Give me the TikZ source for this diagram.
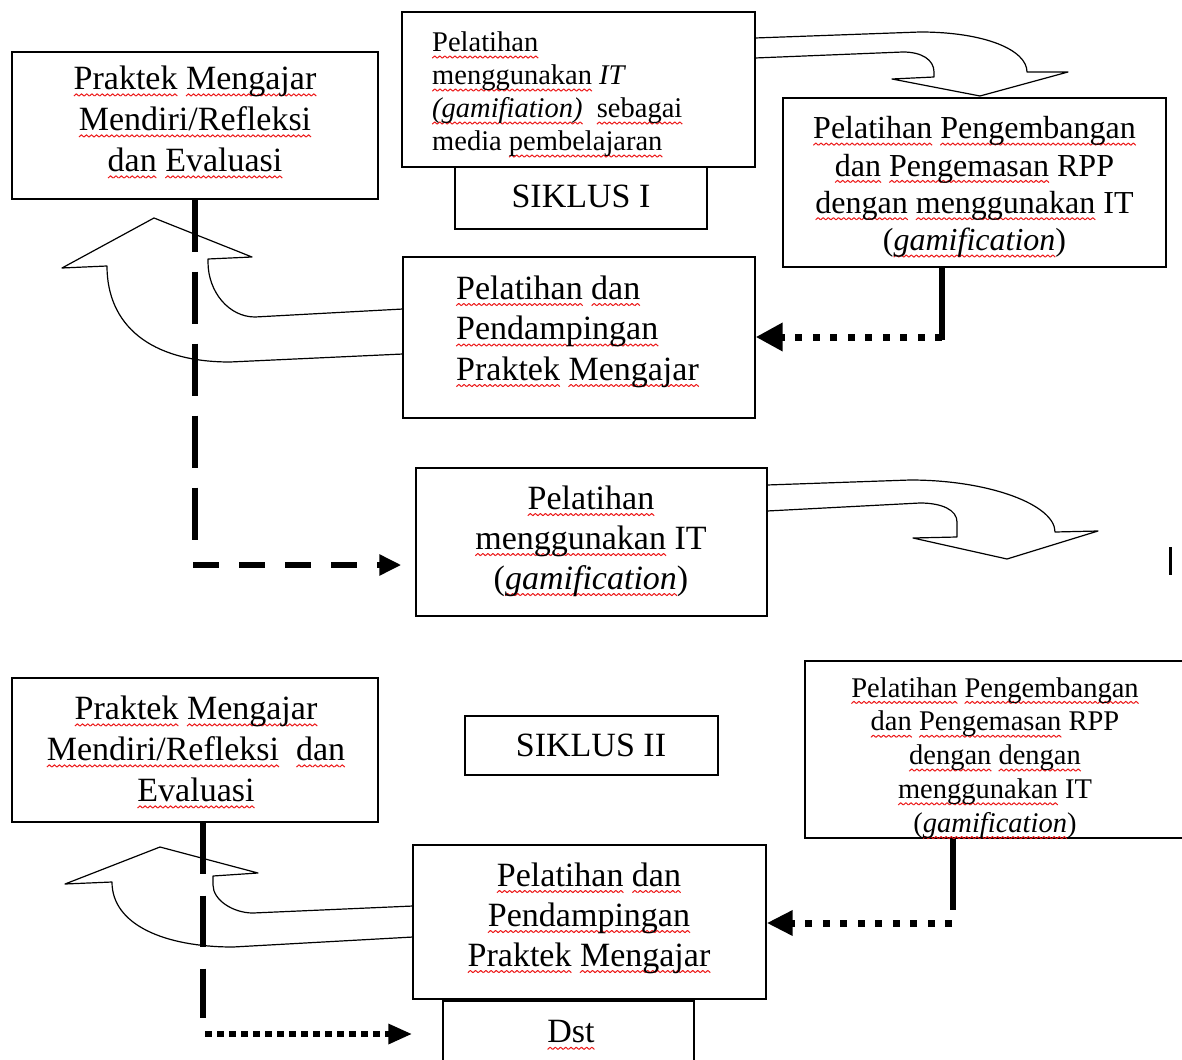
\documentclass[tikz,border=0pt]{standalone}
\usepackage{fontspec}
\setmainfont{Liberation Serif}
\usetikzlibrary{arrows.meta}
\newsavebox\sqbox
\newsavebox\sqword
\sbox\sqbox{\hbox to 5pt{\special{pdf:content q 0.93 0.1 0.1 RG 1 w 1 j 0 0 m 2.49 2.2 l 4.98 0 l S Q}\hfil}}
\newcommand\sq[1]{\sbox\sqword{#1}\leavevmode\rlap{\lower6.5pt\hbox to\wd\sqword{\xleaders\copy\sqbox\hfil}}\usebox\sqword}
\begin{document}
\begin{tikzpicture}[x=1pt,y=-1pt,
  box/.style={draw=black,line width=1.4pt,fill=white,inner sep=0pt},
  blockarrow/.style={draw=black,line width=1.2pt,fill=white,line join=round},
  tbig/.style={inner sep=0pt,align=center,font=\fontsize{34}{41}\selectfont},
  tmid/.style={inner sep=0pt,align=center,font=\fontsize{32}{37.3}\selectfont},
  tsmall/.style={inner sep=0pt,align=center,font=\fontsize{28.5}{33.8}\selectfont},
  longdash/.style={line width=6pt,dash pattern=on 52pt off 20pt},
  shortdash/.style={line width=6pt,dash pattern=on 26pt off 20pt},
  sqdot/.style={line width=7pt,dash pattern=on 7pt off 10.5pt},
  finedot/.style={line width=6.5pt,dash pattern=on 7pt off 5pt},
  solidbar/.style={line width=6.5pt},
]
\useasboundingbox (0,0) rectangle (1182,1059);
\clip (0,0) rectangle (1182,1059);

% ---------- block arrows ----------
\draw[blockarrow] (403,309) -- (255,317) .. controls (229,317) and (208,292) .. (208,262)
  -- (208,259) -- (252,257) -- (154,218) -- (62,268) -- (107,266)
  .. controls (107,325) and (150,362) .. (230,362) -- (403,354) -- cycle;
\draw[blockarrow] (755,58) -- (903,52) .. controls (922,52) and (934,60) .. (934,72)
  -- (934,77) -- (892,79) -- (980,96) -- (1068,72) -- (1027,72)
  .. controls (1027,50) and (985,32) .. (920,32) -- (755,38) -- cycle;
\draw[blockarrow] (767,511) -- (920,503) .. controls (942,503) and (957,510) .. (957,522)
  -- (957,537) -- (913,538) -- (1007,559) -- (1098,531) -- (1055,532)
  .. controls (1055,505) and (990,480) .. (910,480) -- (767,485) -- cycle;
\draw[blockarrow] (413,906) -- (253,913) .. controls (233,913) and (213,900) .. (213,885)
  -- (213,876) -- (258,873) -- (160,847) -- (65,884) -- (112,882)
  .. controls (112,925) and (165,947) .. (233,947) -- (413,937) -- cycle;

% ---------- boxes ----------
\node[box,minimum width=366pt,minimum height=147pt] (a1) at (195,125.5) {};
\node[box,minimum width=252pt,minimum height=62pt] (s1) at (581,198) {};
\node[box,minimum width=353pt,minimum height=155pt] (b) at (578.5,89.5) {};
\node[box,minimum width=383pt,minimum height=169pt] (c) at (974.5,182.5) {};
\node[box,minimum width=352pt,minimum height=161pt] (d) at (579,337.5) {};
\node[box,minimum width=351pt,minimum height=148pt] (e) at (591.5,542) {};
\node[box,minimum width=366pt,minimum height=144pt] (a2) at (195,750) {};
\node[box,minimum width=253pt,minimum height=59pt] (s2) at (591.5,745.5) {};
\node[box,minimum width=385pt,minimum height=177pt] (c2) at (997.5,749.5) {};
\node[box,minimum width=251pt,minimum height=74pt] (dst) at (568.5,1038) {};
\node[box,minimum width=353pt,minimum height=154pt] (d2) at (589.5,922) {};

% ---------- texts ----------
\node[tbig] (a1t) at (195,122) {\sq{Praktek} \sq{Mengajar}\\\sq{Mendiri/Refleksi}\\\sq{dan} \sq{Evaluasi}};
\node[tsmall,font=\fontsize{28.5}{33}\selectfont,align=left,anchor=west] (bt) at (432,94.5)
  {\sq{Pelatihan}\\\sq{menggunakan} \textit{IT}\\\textit{\sq{(gamifiation)}}\ \ \sq{sebagai}\\media \sq{pembelajaran}};
\node[tbig] (s1t) at (581,196) {SIKLUS I};
\node[tmid] (ct) at (974.5,187) {\sq{Pelatihan} \sq{Pengembangan}\\\sq{dan} \sq{Pengemasan} RPP\\\sq{dengan} \sq{menggunakan} IT\\(\textit{\sq{gamification}})};
\node[tbig,font=\fontsize{34}{40.5}\selectfont,align=left,anchor=west] (dt) at (456,331.5)
  {\sq{Pelatihan} \sq{dan}\\\sq{Pendampingan}\\\sq{Praktek} \sq{Mengajar}};
\node[tbig,font=\fontsize{34}{40}\selectfont] (et) at (591,541) {\sq{Pelatihan}\\\sq{menggunakan} IT\\(\textit{\sq{gamification}})};
\node[tbig] (a2t) at (196,752) {\sq{Praktek} \sq{Mengajar}\\\sq{Mendiri/Refleksi}\ \ \sq{dan}\\\sq{Evaluasi}};
\node[tbig] (s2t) at (591,745) {SIKLUS II};
\node[tsmall] (c2t) at (995,758) {\sq{Pelatihan} \sq{Pengembangan}\\\sq{dan} \sq{Pengemasan} RPP\\\sq{dengan} \sq{dengan}\\\sq{menggunakan} IT\\(\textit{\sq{gamification}})};
\node[tbig,font=\fontsize{34}{40}\selectfont] (d2t) at (589,918) {\sq{Pelatihan} \sq{dan}\\\sq{Pendampingan}\\\sq{Praktek} \sq{Mengajar}};
\node[tbig] (dstt) at (571,1035) {\sq{Dst}};

% ---------- connectors ----------
\coordinate (k1) at (942,337);
\coordinate (k2) at (195,565);
\coordinate (k3) at (953,923);
\coordinate (k4) at (203,1034);

\draw[longdash] (a1.south -| k2) -- ([yshift=24pt]k2);
\draw[shortdash,-{Triangle[length=22pt,width=20pt]}] ([xshift=-2pt]k2) -- ([xshift=-14pt]k2 -| e.west);

\draw[solidbar] (k1 |- c.south) -- ([yshift=-3pt]k1);
\draw[sqdot,-{Triangle[length=27pt,width=27pt]}] (k1) -- (k1 -| d.east);

\draw[solidbar] (k3 |- c2.south) -- ([yshift=13pt]k3);
\draw[sqdot,-{Triangle[length=26pt,width=24pt]}] ([xshift=-1pt]k3) -- (k3 -| d2.east);

\draw[longdash,dash pattern=on 51pt off 22pt] (a2.south -| k4) -- ([yshift=16pt]k4);
\draw[finedot,-{Triangle[length=24pt,width=19pt]}] ([xshift=2pt]k4) -- (k4 -| d2.west);

% cursor mark
\draw[line width=3pt] (1170,547) -- (1170,575);
\end{tikzpicture}
\end{document}
